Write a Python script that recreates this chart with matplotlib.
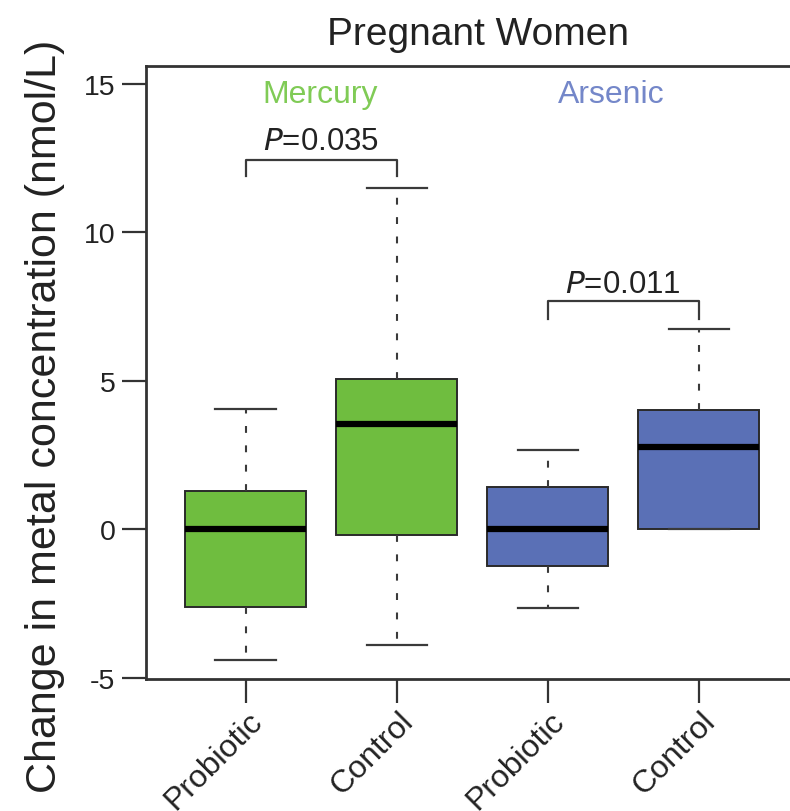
import matplotlib
matplotlib.use("Agg")
import matplotlib.pyplot as plt
from matplotlib.transforms import ScaledTranslation

plt.rcParams['font.family'] = ['Liberation Sans', 'DejaVu Sans']

# box summaries, one entry per group (Hg probiotic, Hg control, As probiotic, As control)
groups = ["Probiotic", "Control", "Probiotic", "Control"]
whislo = [-4.42, -3.9, -2.65, 0.0]
q1 = [-2.63, -0.2, -1.23, 0.0]
med = [0.0, 3.54, 0.0, 2.76]
q3 = [1.28, 5.05, 1.41, 4.0]
whishi = [4.04, 11.5, 2.66, 6.73]
fills = ["#6fbd3f", "#6fbd3f", "#5a70b6", "#5a70b6"]

metals = ["Mercury", "Arsenic"]
metal_x = [1.49, 3.42]
metal_colors = ["#80cb56", "#7487c9"]
pvals = ["0.035", "0.011"]
bracket_y = [12.45, 7.68]
bracket_leg = [11.9, 7.08]
pval_y = [12.8, 7.98]

fig = plt.figure(figsize=(7.9, 8.12), dpi=100)
ax = fig.add_axes([146 / 790, 132 / 812, 660 / 790, 613 / 812])

stats = []
for i in range(len(groups)):
    stats.append({"label": groups[i], "whislo": whislo[i], "q1": q1[i],
                  "med": med[i], "q3": q3[i], "whishi": whishi[i], "fliers": []})

positions = [1, 2, 3, 4]
bp = ax.bxp(stats, positions=positions, widths=0.8, patch_artist=True,
            showfliers=False,
            boxprops=dict(edgecolor="#2a2a2a", linewidth=1.4),
            medianprops=dict(color="black", linewidth=4.5, solid_capstyle="butt"),
            whiskerprops=dict(color="#3a3a3a", linewidth=1.5, linestyle=(0, (3.3, 6))),
            capprops=dict(color="#3a3a3a", linewidth=1.6),
            capwidths=0.4)
for patch, c in zip(bp["boxes"], fills):
    patch.set_facecolor(c)

# significance brackets
for k in range(2):
    x0, x1 = positions[2 * k], positions[2 * k + 1]
    ax.plot([x0, x0, x1, x1], [bracket_leg[k], bracket_y[k], bracket_y[k], bracket_leg[k]],
            color="#3a3a3a", linewidth=1.6)
    ax.text((x0 + x1) / 2, pval_y[k], "$\\mathit{P}$=" + pvals[k],
            ha="center", va="baseline", fontsize=22.5, color="#222222")

for k in range(2):
    ax.text(metal_x[k], 14.38, metals[k], color=metal_colors[k], fontsize=23,
            ha="center", va="baseline")

ax.set_xlim(0.34, 4.71)
ax.set_ylim(-5.05, 15.6)
ax.set_yticks([-5, 0, 5, 10, 15])
ax.set_yticklabels(["-5", "0", "5", "10", "15"])
ax.set_xticks(positions)
ax.set_xticklabels(groups, rotation=45, ha="right", va="center", rotation_mode="anchor")

ax.tick_params(axis="both", length=17, width=1.6, color="#333333",
               labelcolor="#222222")
ax.tick_params(axis="y", labelsize=20.5, pad=5)
ax.tick_params(axis="x", labelsize=23, pad=9.5)

# nudge the slanted labels so their upper end sits just right of the tick
shift = ScaledTranslation(12 / 100, 0, fig.dpi_scale_trans)
for lab in ax.get_xticklabels():
    lab.set_transform(lab.get_transform() + shift)

for s in ax.spines.values():
    s.set_linewidth(2.0)
    s.set_color("#333333")

ax.set_ylabel("Change in metal concentration (nmol/L)", fontsize=31, color="#222222",
              va="center")
ax.yaxis.set_label_coords((45 - 146) / 660, (396 - 132) / 613)
ax.set_title("Pregnant Women", fontsize=28, color="#222222", pad=16, x=(478 - 146) / 660)

fig.savefig("out.png", dpi=100)
